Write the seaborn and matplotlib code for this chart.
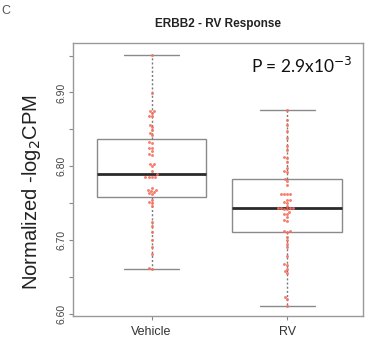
import numpy as np
import pandas as pd
import matplotlib
matplotlib.use("Agg")
import matplotlib.pyplot as plt
import seaborn as sns

groups = ["Vehicle", "RV"]
vehicle = [6.951, 6.899,
           6.875, 6.875, 6.872, 6.868, 6.868,
           6.856, 6.853, 6.849, 6.845, 6.842,
           6.833, 6.831, 6.824, 6.824,
           6.820, 6.816, 6.815,
           6.803, 6.803, 6.800, 6.794,
           6.789, 6.786, 6.786, 6.786, 6.786,
           6.771, 6.768, 6.768, 6.767, 6.765, 6.764, 6.762,
           6.754, 6.752, 6.750, 6.746,
           6.725, 6.719, 6.711, 6.700, 6.691, 6.681, 6.662, 6.661]
rv = [6.876, 6.862, 6.856, 6.848, 6.838, 6.828, 6.822, 6.813, 6.811, 6.806,
      6.798, 6.793, 6.792, 6.783, 6.780, 6.774, 6.763, 6.763, 6.762, 6.762,
      6.754, 6.754, 6.752, 6.750, 6.746, 6.744, 6.744, 6.744, 6.744, 6.742,
      6.742, 6.738, 6.735, 6.735, 6.731, 6.727, 6.726, 6.712, 6.712, 6.711,
      6.704, 6.700, 6.695, 6.690, 6.678, 6.667, 6.666, 6.661, 6.658, 6.655,
      6.623, 6.620, 6.610]

title = "ERBB2 - RV Response"
ylabel = "Normalized -log$_2$CPM"
ptext = "P = 2.9x10$^{-3}$"
panel = "C"
yticks = [6.60, 6.65, 6.70, 6.75, 6.80, 6.85, 6.90, 6.95]
ytick_labels = ["6.60", "", "6.70", "", "6.80", "", "6.90", ""]

df = pd.DataFrame({
    "group": ["Vehicle"] * len(vehicle) + ["RV"] * len(rv),
    "value": vehicle + rv,
})

sns.set_theme(style="white")
plt.rcParams["font.family"] = ["Liberation Sans", "DejaVu Sans"]

fig = plt.figure(figsize=(3.65, 3.41), dpi=100)
ax = fig.add_axes([0.2, 0.0733, 0.7945, 0.8007])

sns.boxplot(data=df, x="group", y="value", order=groups, whis=(0, 100),
            width=0.81, color="white", linecolor="#8a8a8a", linewidth=1.0,
            showfliers=False, saturation=1,
            boxprops=dict(facecolor="white"),
            medianprops=dict(color="#2a2a2a", linewidth=2.0),
            whiskerprops=dict(linestyle=(0, (1.5, 1.5)), color="#7a7a7a"),
            capprops=dict(color="#8a8a8a"),
            ax=ax)
sns.swarmplot(data=df, x="group", y="value", order=groups, color="#F4705E",
              size=2.1, alpha=0.9, ax=ax, zorder=3)

ax.set_xlim(-0.58, 1.56)
ax.set_ylim(6.597, 6.967)
ax.set_yticks(yticks)
ax.set_yticklabels(ytick_labels)
plt.setp(ax.get_yticklabels(), rotation=90, va="center", ha="right")
ax.tick_params(axis="y", direction="out", length=3, width=0.8, color="#888888",
               labelsize=7.5, labelcolor="#444444", pad=2, left=True)
ax.tick_params(axis="x", direction="out", length=3, width=0.8, color="#888888",
               labelsize=9, labelcolor="#333333", pad=4, bottom=True)
for s in ax.spines.values():
    s.set_visible(True)
    s.set_color("#999999")
    s.set_linewidth(1.0)
ax.set_xlabel("")
ax.set_ylabel(ylabel, fontsize=14.5, color="#222222")
ax.yaxis.set_label_coords(-0.105, 0.455)

ax.text(0.965, 0.915, ptext, transform=ax.transAxes, ha="right", va="center",
        fontsize=12.5, family="Lato", color="#111111")
fig.text(0.597, 0.93, title, ha="center", va="center", fontsize=8.5,
         fontweight="bold", color="#222222")
fig.text(0.003, 0.985, panel, ha="left", va="top", fontsize=9, color="#555555")

fig.savefig("out.png", dpi=100)
